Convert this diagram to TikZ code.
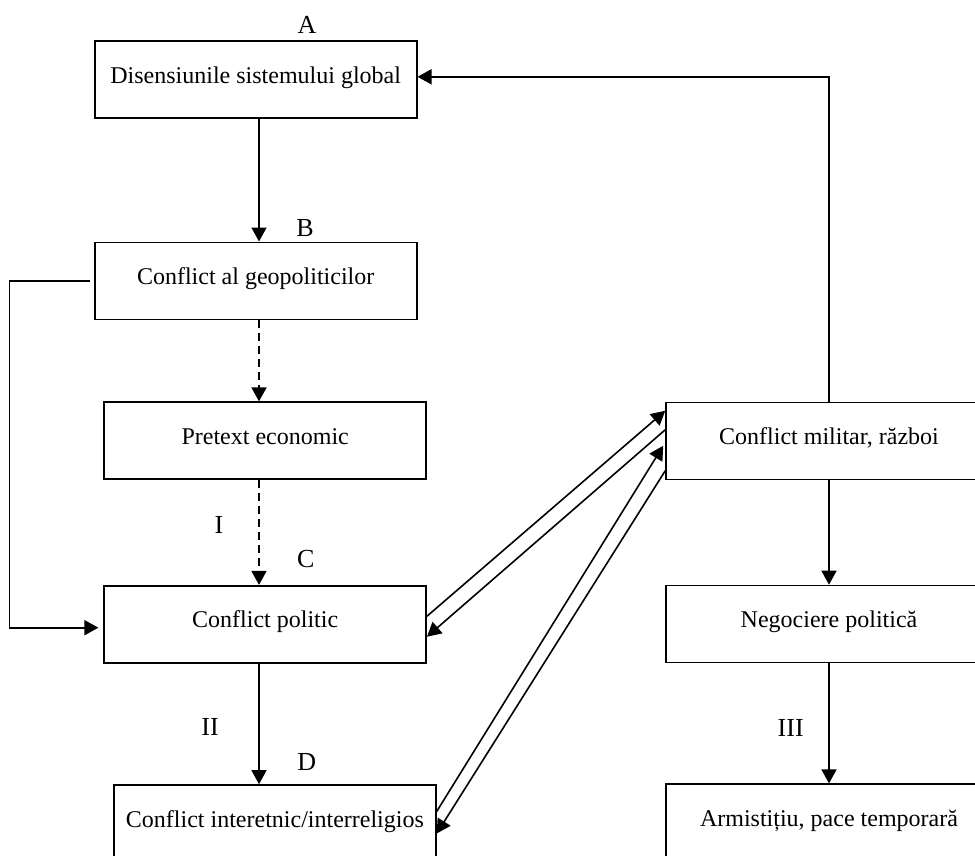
\documentclass[tikz,border=0pt]{standalone}
\usepackage{fontspec}
\setmainfont{Liberation Serif}
\usetikzlibrary{arrows.meta}
\tikzset{
  box/.style={draw, line width=1.6pt, minimum width=322pt, minimum height=77pt,
    inner sep=0pt, text height=16pt, text depth=9pt, font=\fontsize{24}{28}\selectfont},
  lab/.style={inner sep=0pt, font=\fontsize{26}{30}\selectfont},
  arr/.style={line width=1.6pt, -{Triangle[length=14pt,width=15pt]}},
  dsh/.style={arr, dash pattern=on 8pt off 5pt},
}
\begin{document}
\begin{tikzpicture}[x=1pt,y=-1pt]
  \useasboundingbox (0,0) rectangle (975,856);
  \node[box] (dis) at (255.7,79.8) {Disensiunile sistemului global};
  \node[box] (geo) at (255.7,280.8) {Conflict al geopoliticilor};
  \node[box] (pre) at (265.2,440.7) {Pretext economic};
  \node[box] (pol) at (265.2,624.2) {Conflict politic};
  \node[box] (etn) at (274.9,823.5) {Conflict interetnic/interreligios};
  \node[box,minimum width=326pt] (mil) at (829,440.8) {Conflict militar, război};
  \node[box,minimum width=326pt] (neg) at (829,624) {Negociere politică};
  \node[box,minimum width=326pt] (arm) at (829,822.7) {Armistițiu, pace temporară};
  \node[lab] (la) at (307,25) {A};
  \node[lab] (lb) at (305,228) {B};
  \node[lab] (l1) at (219,525) {I};
  \node[lab] (lc) at (305.7,559) {C};
  \node[lab] (l2) at (210,726.7) {II};
  \node[lab] (ld) at (306.7,761.7) {D};
  \node[lab] (l3) at (790.7,728) {III};
  \coordinate (col) at (259,0);
  \coordinate (lft) at (9.5,0);
  \coordinate (fb) at ([yshift=-3.5pt]pol.west);
  \draw[arr] (dis.south -| col) -- (geo.north -| col);
  \draw[dsh] (geo.south -| col) -- (pre.north -| col);
  \draw[dsh] (pre.south -| col) -- (pol.north -| col);
  \draw[arr] (pol.south -| col) -- (etn.north -| col);
  \draw[arr, shorten <=4pt, shorten >=5pt] (geo.west) -| (lft |- fb) -- (fb);
  \draw[arr] (mil.north) |- ([yshift=3pt]dis.east);
  \draw[arr] (mil.south) -- (neg.north);
  \draw[arr] (neg.south) -- (arm.north);
  \begin{scope}[line width=1.6pt]
    \draw[arr] ([yshift=8pt]pol.east) -- ([yshift=30pt]mil.west);
    \draw[arr] ([yshift=11pt]mil.west) -- ([yshift=-12.5pt]pol.east);
    \draw[arr] ([yshift=12pt]etn.east) -- ([xshift=-2pt,yshift=-5pt]mil.west);
    \draw[arr] ([yshift=-30pt]mil.west) -- ([yshift=-10pt]etn.east);
  \end{scope}
\end{tikzpicture}
\end{document}
